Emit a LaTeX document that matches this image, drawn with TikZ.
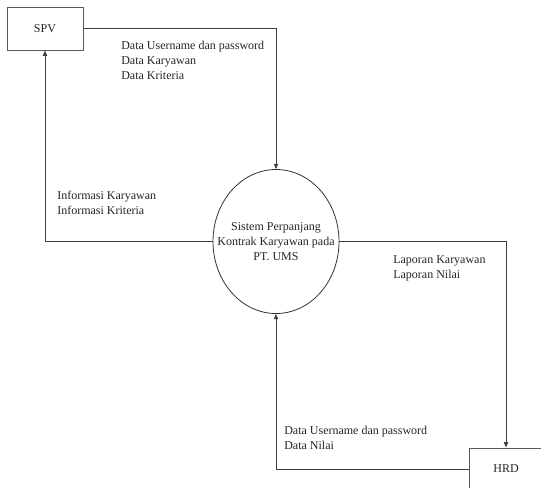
\documentclass[tikz,border=0pt]{standalone}
\usepackage{fontspec}
\setmainfont{Liberation Serif}
\usetikzlibrary{shapes.geometric,arrows.meta}
\begin{document}
\begin{tikzpicture}[x=0.75pt,y=-0.75pt,
  txt/.style={font=\fontsize{9}{11.25}\selectfont, text=black!85},
  entity/.style={draw=black!65, line width=0.75pt, rectangle, inner sep=0pt, txt},
  process/.style={draw=black!80, line width=0.6pt, ellipse, inner ysep=0pt, inner xsep=-12pt,
    minimum width=94.5pt, minimum height=108pt, align=center, txt},
  flow/.style={draw=black!75, line width=0.75pt,
    -{Triangle[length=4pt,width=3.2pt]}},
  lbl/.style={txt, align=left, anchor=base west, inner sep=0pt}]
  \useasboundingbox (0,0) rectangle (541,487);
  \clip (0,0) rectangle (541,487);
  \fill[white] (0,0) rectangle (541,487);

  % external entities and the process
  \node[entity, minimum width=57pt, minimum height=32.25pt] (spv) at (45,28.5) {SPV};
  \node[entity, minimum width=55.5pt, minimum height=31.5pt] (hrd) at (506,469) {HRD};
  \node[process] (proc) at (276,241.5)
    {Sistem Perpanjang\\Kontrak Karyawan pada\\PT. UMS};

  % data flows
  \draw[flow] (spv.east) -| (proc.north);
  \draw[flow] (proc.west) -| (spv.south);
  \draw[flow] (proc.east) -| (hrd.north);
  \draw[flow] (hrd.west) -| (proc.south);

  % flow labels (anchored at the baseline of their last line)
  \node[lbl] (l1) at (121,79.5) {Data Username dan password\\Data Karyawan\\Data Kriteria};
  \node[lbl] (l2) at (57,214.5) {Informasi Karyawan\\Informasi Kriteria};
  \node[lbl] (l3) at (393,278.3) {Laporan Karyawan\\Laporan Nilai};
  \node[lbl] (l4) at (284,449.3) {Data Username dan password\\Data Nilai};
\end{tikzpicture}
\end{document}
